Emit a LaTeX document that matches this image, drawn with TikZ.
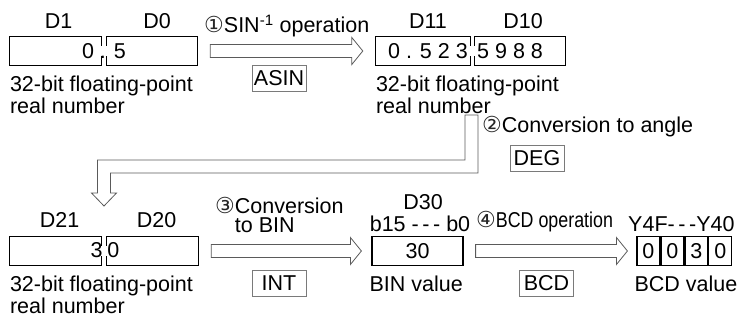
\documentclass[tikz,border=0pt]{standalone}
\usepackage{graphicx}
\usepackage{fontspec}
\setmainfont{Liberation Sans}
\newfontfamily\circfont{DejaVu Sans}
\usepackage{tikz}
\usetikzlibrary{positioning,calc}
\definecolor{arrowgray}{HTML}{5A5A5A}
\definecolor{taggray}{HTML}{7A7A7A}
\newcommand{\cnum}[1]{{\circfont\fontsize{22}{18}\selectfont\color{black!85}#1}}
\tikzset{
  txt/.style={inner sep=0pt, font=\fontsize{21.5}{22}\selectfont},
  note/.style={txt, align=left},
  reghold/.style={inner sep=0pt, minimum height=28.5pt},
  regline/.style={line width=1.2pt},
  regbox/.style={draw, line width=1.2pt, inner sep=0pt, minimum height=28.5pt, font=\fontsize{21.5}{22}\selectfont},
  cellbox/.style={regbox, minimum width=22.75pt},
  tagbox/.style={draw=taggray, line width=0.8pt, inner sep=0pt, minimum width=54pt, minimum height=26pt, font=\fontsize{21.5}{22}\selectfont},
  hollowarr/.style={draw=arrowgray, line width=0.8pt,
    to path={($(\tikztostart)+(0pt,6.5pt)$) -- ($(\tikztotarget)+(-11pt,6.5pt)$) -- ($(\tikztotarget)+(-11pt,13.5pt)$)
      -- (\tikztotarget) -- ($(\tikztotarget)+(-11pt,-13.5pt)$) -- ($(\tikztotarget)+(-11pt,-6.5pt)$)
      -- ($(\tikztostart)+(0pt,-6.5pt)$) -- cycle}},
  hollowline/.style={draw=arrowgray, line width=0.8pt}
}

\begin{document}
\begin{tikzpicture}[x=1pt, y=-1pt]
  \useasboundingbox (0,0) rectangle (741,320);
  % source D1/D0
  \node[reghold, minimum width=91pt] (d1) at (55.5,51) {};
  \node[reghold, minimum width=90pt] (d0) at (152,51) {};
  \draw[regline] ([yshift=5pt]d1.east) -- (d1.north east) -- (d1.north west) -- (d1.south west) -- (d1.south east) -- ([yshift=-5pt]d1.east);
  \draw[regline] ([yshift=5pt]d0.west) -- (d0.north west) -- (d0.north east) -- (d0.south east) -- (d0.south west) -- ([yshift=-5pt]d0.west);
  \node[txt, above=8pt of d1, xshift=3pt] (d1l) {D1};
  \node[txt, above=8pt of d0, xshift=5pt] (d0l) {D0};
  \node[txt, anchor=base] (v1) at (104,59) {0 . 5};
  \node[note, below=10pt of d1.south west, anchor=north west] (t1) {32-bit floating-point\\real number};
  % result D11/D10
  \node[reghold, minimum width=94pt] (d11) at (423,51) {};
  \node[reghold, minimum width=90pt] (d10) at (520,51) {};
  \draw[regline] ([yshift=5pt]d11.east) -- (d11.north east) -- (d11.north west) -- (d11.south west) -- (d11.south east) -- ([yshift=-5pt]d11.east);
  \draw[regline] ([yshift=5pt]d10.west) -- (d10.north west) -- (d10.north east) -- (d10.south east) -- (d10.south west) -- ([yshift=-5pt]d10.west);
  \node[txt, above=8pt of d11, xshift=5pt] (d11l) {D11};
  \node[txt, above=8pt of d10, xshift=3pt] (d10l) {D10};
  \node[txt, anchor=base east] (v11) at (468,59) {0 . 5 2 3};
  \node[txt, anchor=base west] (v10) at (477,59) {5 9 8 8};
  \node[note, below=10pt of d11.south west, anchor=north west] (t11) {32-bit floating-point\\real number};
  % step 1
  \coordinate (a1s) at ([xshift=13pt]d0.east);
  \coordinate (a1t) at ([xshift=-13pt]d11.west);
  \draw[hollowarr] (a1s) to (a1t);
  \node[txt, anchor=base west] (op1) at (204,33) {\cnum{①}SIN\textsuperscript{-1} operation};
  \node[tagbox] (asin) at (279,78) {ASIN};
  % step 2
  \coordinate (a2s) at (471.5,115);
  \coordinate (a2t) at (104,206);
  \draw[hollowline] ([xshift=-6.5pt]a2s) -- ++(0,45) -- ++(-367.5,0) -- ++(0,33) -- ++(-6,0) -- (a2t)
    -- ++(12.5,-13) -- ++(-6,0) -- ++(0,-20) -- ++(367.5,0) -- ++(0,-58) -- cycle;
  \node[txt, anchor=base west] (op2) at (482,133) {\cnum{②}Conversion to angle};
  \node[tagbox] (deg) at (537,158.5) {DEG};
  % D21/D20
  \node[reghold, minimum width=91pt] (d21) at (55.5,251) {};
  \node[reghold, minimum width=91pt] (d20) at (152.5,251) {};
  \draw[regline] ([yshift=5pt]d21.east) -- (d21.north east) -- (d21.north west) -- (d21.south west) -- (d21.south east) -- ([yshift=-5pt]d21.east);
  \draw[regline] ([yshift=5pt]d20.west) -- (d20.north west) -- (d20.north east) -- (d20.south east) -- (d20.south west) -- ([yshift=-5pt]d20.west);
  \node[txt, above=9pt of d21, xshift=4pt] (d21l) {D21};
  \node[txt, above=9pt of d20, xshift=4pt] (d20l) {D20};
  \node[txt, anchor=base] (v21) at (105,258) {3\hspace{5pt}0};
  \node[note, below=10pt of d21.south west, anchor=north west] (t21) {32-bit floating-point\\real number};
  % step 3
  \node[regbox, minimum width=91pt] (binv) at (417.5,251) {30};
  \node[txt, anchor=base] (d30l) at (423,210) {D30};
  \node[txt, anchor=base] (bits) at (420,232) {b15 -\,-\,- b0};
  \node[txt, below=10pt of binv.south west, anchor=north west, xshift=-2pt] (tbin) {BIN value};
  \coordinate (a3s) at ([xshift=13pt]d20.east);
  \coordinate (a3t) at ([xshift=-10pt]binv.west);
  \draw[hollowarr] (a3s) to (a3t);
  \node[note, anchor=north west, font=\fontsize{21.5}{19}\selectfont] (op3) at (215,197.5) {\smash{\cnum{③}}Conversion\\\hphantom{\cnum{③}}to BIN};
  \node[tagbox] (int) at (279,283.5) {INT};
  % step 4
  \node[cellbox] (c1) at (648.4,251) {0};
  \node[cellbox, right=0pt of c1] (c2) {0};
  \node[cellbox, right=0pt of c2] (c3) {3};
  \node[cellbox, right=0pt of c3] (c4) {0};
  \node[txt, anchor=base west] (ybits) at (628,232) {Y4F-\,-\,-Y40};
  \node[txt, below=10pt of c1.south west, anchor=north west, xshift=-2pt] (tbcd) {BCD value};
  \coordinate (a4s) at ([xshift=12pt]binv.east);
  \coordinate (a4t) at ([xshift=-9pt]c1.west);
  \draw[hollowarr] (a4s) to (a4t);
  \node[txt, anchor=base west] (op4) at (476,228) {\cnum{④}\scalebox{0.83}[1]{BCD operation}};
  \node[tagbox] (bcd) at (546.5,283.5) {BCD};
\end{tikzpicture}
\end{document}
